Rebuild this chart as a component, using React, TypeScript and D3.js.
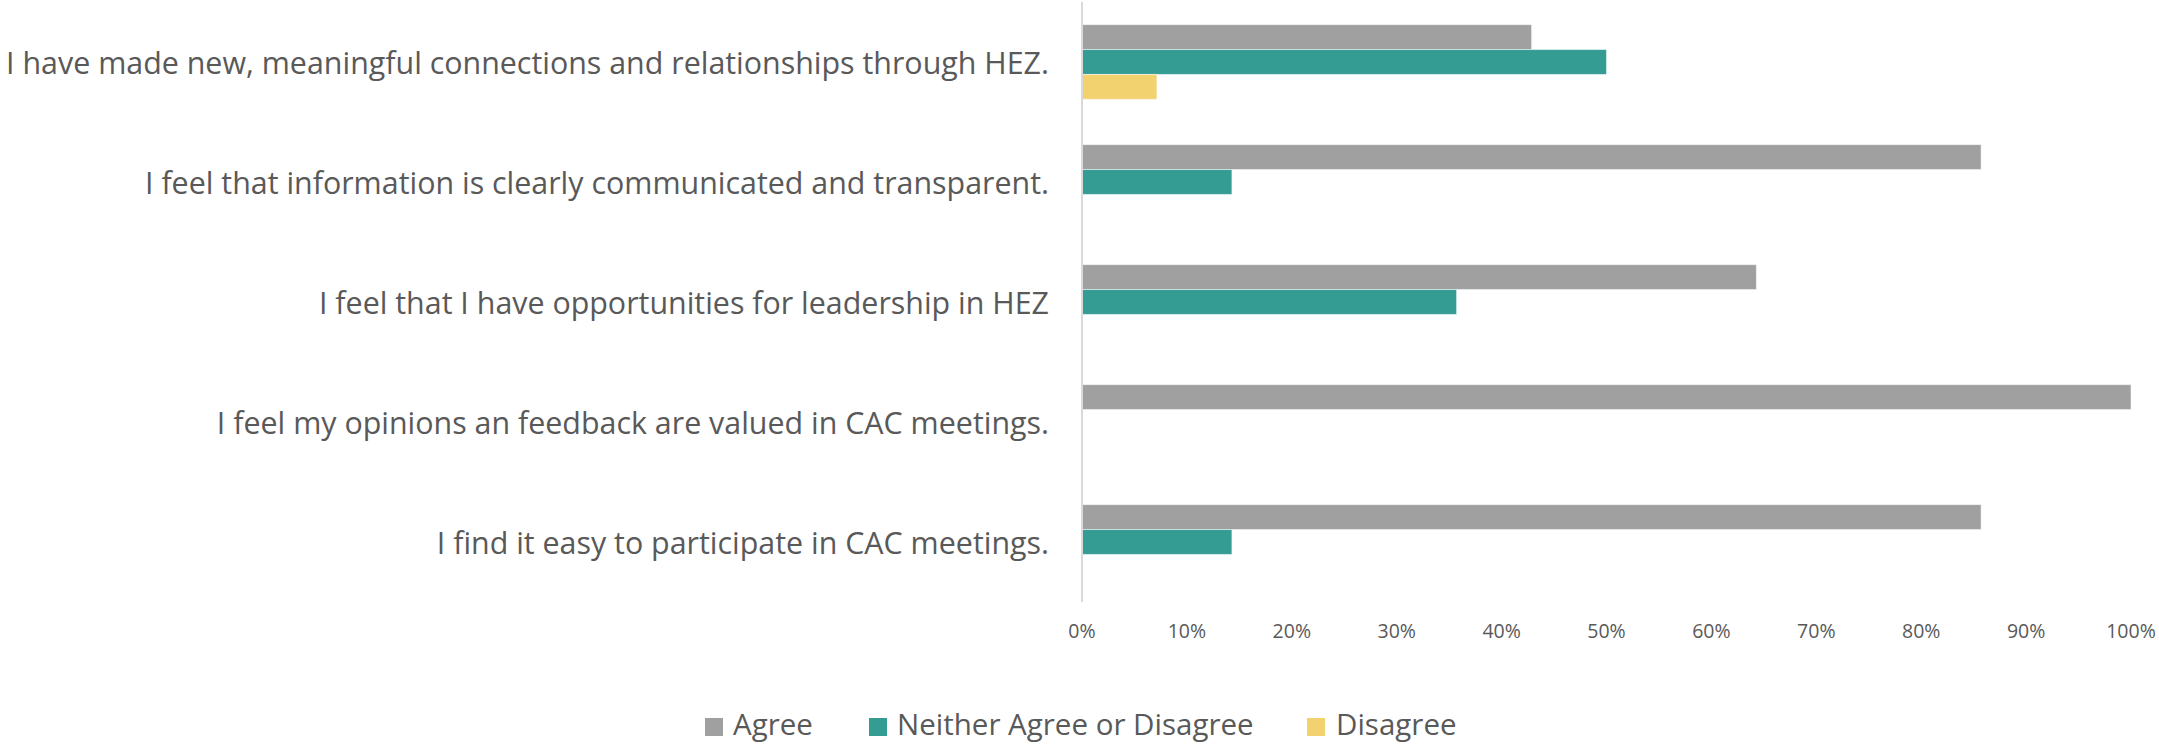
import React from "react";
import * as d3 from "d3";

const categories = [
  "I have made new, meaningful connections and relationships through HEZ.",
  "I feel that information is clearly communicated and transparent.",
  "I feel that I have opportunities for leadership in HEZ",
  "I feel my opinions an feedback are valued in CAC meetings.",
  "I find it easy to participate in CAC meetings.",
];
const seriesNames = ["Agree", "Neither Agree or Disagree", "Disagree"];
const agree = [0.4286, 0.8571, 0.6429, 1.0, 0.8571];
const neither = [0.5, 0.1429, 0.3571, 0, 0.1429];
const disagree = [0.0714, 0, 0, 0, 0];
const tickValues = [0, 0.1, 0.2, 0.3, 0.4, 0.5, 0.6, 0.7, 0.8, 0.9, 1.0];

const colors = ["#A0A0A0", "#359C94", "#F2D16F"];
const W = 2159;
const H = 745;
const FONT = "'Open Sans', 'Liberation Sans', sans-serif";

export default function App() {
  const series = [agree, neither, disagree];
  const x = d3.scaleLinear().domain([0, 1]).range([1082, 2131]);
  const y = d3.scaleBand<string>().domain(categories).range([2, 602]).padding(0);
  const barH = y.bandwidth() / (3 + 1.82);
  const groupOffset = (y.bandwidth() - 3 * barH) / 2;

  const legendItems = [
    { name: seriesNames[0], sx: 705, tx: 733 },
    { name: seriesNames[1], sx: 869, tx: 897 },
    { name: seriesNames[2], sx: 1307, tx: 1336 },
  ];

  return (
    <svg
      width={W}
      height={H}
      style={{ position: "absolute", left: 0, top: 0, background: "#fff" }}
      fontFamily={FONT}
    >
      <rect x={0} y={0} width={W} height={H} fill="#fff" />
      {categories.map((c, i) =>
        series.map((s, k) =>
          s[i] > 0 ? (
            <rect
              key={c + k}
              x={x(0)}
              y={(y(c) as number) + groupOffset + k * barH}
              width={x(s[i]) - x(0)}
              height={barH}
              fill={colors[k]}
              stroke="#ffffff"
              strokeOpacity={0.5}
              strokeWidth={1}
            />
          ) : null
        )
      )}
      <line x1={x(0)} x2={x(0)} y1={2} y2={602} stroke="#D9D9D9" strokeWidth={2} />
      {categories.map((c) => (
        <text
          key={c}
          x={1049}
          y={(y(c) as number) + y.bandwidth() / 2}
          textAnchor="end"
          dominantBaseline="central"
          fontSize={30.4}
          fill="#595959"
        >
          {c}
        </text>
      ))}
      {tickValues.map((t) => (
        <text
          key={t}
          x={x(t)}
          y={630}
          textAnchor="middle"
          dominantBaseline="central"
          fontSize={19.5}
          fill="#595959"
        >
          {d3.format(".0%")(t)}
        </text>
      ))}
      {legendItems.map((it, k) => (
        <g key={it.name}>
          <rect x={it.sx} y={718} width={18} height={18} fill={colors[k]} />
          <text x={it.tx} y={735} fontSize={29.5} fill="#595959">
            {it.name}
          </text>
        </g>
      ))}
    </svg>
  );
}
